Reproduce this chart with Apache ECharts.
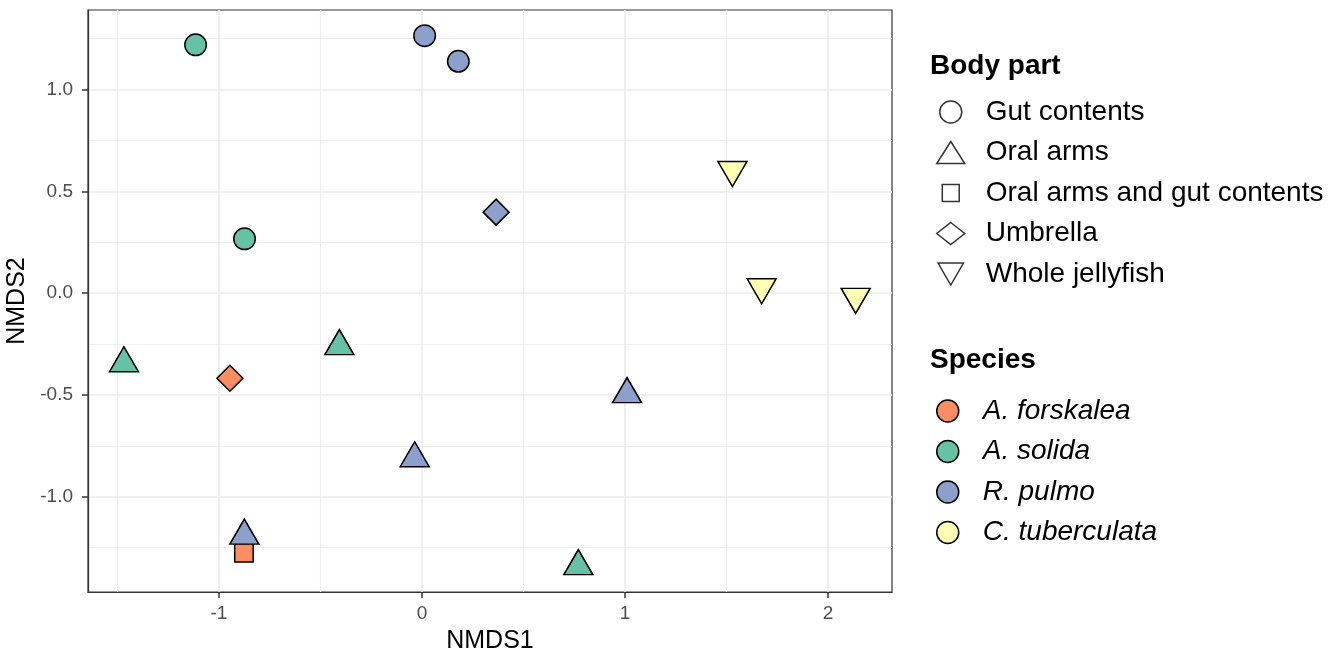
<!DOCTYPE html>
<html><head><meta charset="utf-8">
<script src="https://cdn.jsdelivr.net/npm/echarts@6/dist/echarts.min.js"></script>
<style>html,body{margin:0;padding:0;background:#fff}#chart{width:1336px;height:652px}</style>
</head><body><div id="chart"></div>
<script>
// ---- data ----
const speciesNames = ['A. forskalea', 'A. solida', 'R. pulmo', 'C. tuberculata'];
const bodyParts = ['Gut contents', 'Oral arms', 'Oral arms and gut contents', 'Umbrella', 'Whole jellyfish'];
const xTicks = [-1, 0, 1, 2];
const xMinorTicks = [-1.5, -0.5, 0.5, 1.5];
const yTicks = [-1.0, -0.5, 0.0, 0.5, 1.0];
const yMinorTicks = [-1.25, -0.75, -0.25, 0.25, 0.75, 1.25];
const nmds1 = [-1.115, -0.874, 0.013, 0.179, 0.365, 1.529, 1.673, 2.136, -1.468, -0.407, 0.770, -0.036, -0.875, 1.010, -0.946, -0.877];
const nmds2 = [1.220, 0.267, 1.265, 1.139, 0.398, 0.605, 0.029, -0.018, -0.344, -0.260, -1.341, -0.811, -1.191, -0.496, -0.418, -1.275];
const pointSpecies = ['A. solida', 'A. solida', 'R. pulmo', 'R. pulmo', 'R. pulmo', 'C. tuberculata', 'C. tuberculata', 'C. tuberculata',
  'A. solida', 'A. solida', 'A. solida', 'R. pulmo', 'R. pulmo', 'R. pulmo', 'A. forskalea', 'A. forskalea'];
const pointPart = ['Gut contents', 'Gut contents', 'Gut contents', 'Gut contents', 'Umbrella', 'Whole jellyfish', 'Whole jellyfish', 'Whole jellyfish',
  'Oral arms', 'Oral arms', 'Oral arms', 'Oral arms', 'Oral arms', 'Oral arms', 'Umbrella', 'Oral arms and gut contents'];

// ---- styles ----
const FONT = 'Liberation Sans, Arial, Helvetica, sans-serif';
const speciesColors = ['#FC8D62', '#66C2A5', '#8DA0CB', '#FFFFB3'];
const DOWN = 'path://M0,0L2,0L1,1.732Z';
const shapeStyle = {
  'Gut contents': { symbol: 'circle', symbolSize: 21.5, symbolOffset: [0, 0] },
  'Oral arms': { symbol: 'triangle', symbolSize: [29, 25], symbolOffset: [0, -4] },
  'Oral arms and gut contents': { symbol: 'rect', symbolSize: [18.5, 18.5], symbolOffset: [0, 0] },
  'Umbrella': { symbol: 'diamond', symbolSize: [26, 26], symbolOffset: [0, 0] },
  'Whole jellyfish': { symbol: DOWN, symbolSize: [29, 25], symbolOffset: [0, 4] }
};
const legendIcons = {
  'Gut contents': 'circle',
  'Oral arms': 'triangle',
  'Oral arms and gut contents': 'path://M-0.15,-0.15M1.15,1.15M0,0L1,0L1,1L0,1Z',
  'Umbrella': 'diamond',
  'Whole jellyfish': DOWN
};
const X_MIN = -1.645, X_MAX = 2.315, Y_MIN = -1.468, Y_MAX = 1.391;
const border = { borderColor: '#000', borderWidth: 1.5 };

const speciesSeries = speciesNames.map((sp, si) => ({
  type: 'scatter', name: sp, xAxisIndex: 0, yAxisIndex: 0,
  itemStyle: Object.assign({ color: speciesColors[si], opacity: 1 }, border),
  emphasis: { disabled: true },
  data: nmds1.map((x, i) => i).filter(i => pointSpecies[i] === sp).map(i => Object.assign(
    { value: [nmds1[i], nmds2[i]] }, shapeStyle[pointPart[i]]))
}));
const partSeries = bodyParts.map(bp => ({
  type: 'scatter', name: bp, xAxisIndex: 0, yAxisIndex: 0, data: [],
  symbol: shapeStyle[bp].symbol,
  itemStyle: Object.assign({ color: '#fff' }, border)
}));

const legendBase = {
  orient: 'vertical', left: 936, padding: 0, itemGap: 12.5, itemWidth: 28, itemHeight: 22,
  selectedMode: false,
  textStyle: { fontSize: 28, lineHeight: 27, color: '#000', fontFamily: FONT, padding: [0, 0, 0, 16] }
};
const titleStyle = { fontSize: 28, lineHeight: 27, fontWeight: 'bold', color: '#000', fontFamily: FONT };

const option = {
  animation: false,
  backgroundColor: '#fff',
  title: [
    { text: 'Body part', left: 930, top: 53, padding: 0, textStyle: titleStyle },
    { text: 'Species', left: 930, top: 347, padding: 0, textStyle: titleStyle }
  ],
  legend: [
    Object.assign({}, legendBase, {
      top: 98,
      data: bodyParts.map(bp => ({ name: bp, icon: legendIcons[bp], itemStyle: Object.assign({ color: '#fff' }, border) }))
    }),
    Object.assign({}, legendBase, {
      top: 397,
      textStyle: Object.assign({}, legendBase.textStyle, { fontStyle: 'italic' }),
      data: speciesNames.map((sp, si) => ({ name: sp, icon: 'circle', itemStyle: Object.assign({ color: speciesColors[si] }, border) }))
    })
  ],
  grid: { left: 88, right: 444, top: 10, bottom: 60, show: true, borderColor: '#333', borderWidth: 1.2,
          backgroundColor: 'transparent', containLabel: false, outerBoundsMode: 'none' },
  xAxis: [
    {
      type: 'value', min: X_MIN, max: X_MAX, position: 'bottom',
      axisLine: { show: true, onZero: false, lineStyle: { color: '#333', width: 1.2 } },
      axisTick: { show: true, inside: false, length: 6, lineStyle: { color: '#333', width: 1.5 }, customValues: xTicks },
      axisLabel: { customValues: xTicks, color: '#4D4D4D', fontSize: 19, margin: 12, fontFamily: FONT, formatter: v => String(v) },
      splitLine: { show: true, lineStyle: { color: '#EBEBEB', width: 1.6 } },
      name: 'NMDS1', nameLocation: 'middle', nameGap: 37,
      nameTextStyle: { fontSize: 25, color: '#000', fontFamily: FONT }
    },
    {
      type: 'value', min: X_MIN, max: X_MAX, position: 'top',
      axisLine: { show: false, onZero: false },
      axisTick: { show: false, customValues: xMinorTicks },
      axisLabel: { show: false, customValues: xMinorTicks },
      splitLine: { show: true, lineStyle: { color: '#EFEFEF', width: 1.2 } }
    }
  ],
  yAxis: [
    {
      type: 'value', min: Y_MIN, max: Y_MAX, position: 'left',
      axisLine: { show: true, onZero: false, lineStyle: { color: '#333', width: 1.2 } },
      axisTick: { show: true, inside: false, length: 6, lineStyle: { color: '#333', width: 1.5 }, customValues: yTicks },
      axisLabel: { customValues: yTicks, color: '#4D4D4D', fontSize: 19, margin: 15, fontFamily: FONT, formatter: v => v.toFixed(1) },
      splitLine: { show: true, lineStyle: { color: '#EBEBEB', width: 1.6 } },
      name: 'NMDS2', nameLocation: 'middle', nameGap: 48, nameRotate: 90,
      nameTextStyle: { fontSize: 25, color: '#000', fontFamily: FONT }
    },
    {
      type: 'value', min: Y_MIN, max: Y_MAX, position: 'right',
      axisLine: { show: false, onZero: false },
      axisTick: { show: false, customValues: yMinorTicks },
      axisLabel: { show: false, customValues: yMinorTicks },
      splitLine: { show: true, lineStyle: { color: '#EFEFEF', width: 1.2 } }
    }
  ],
  series: speciesSeries.concat(partSeries)
};
const chart = echarts.init(document.getElementById('chart'), null, { renderer: 'canvas' });
chart.setOption(option);
</script>
</body></html>
